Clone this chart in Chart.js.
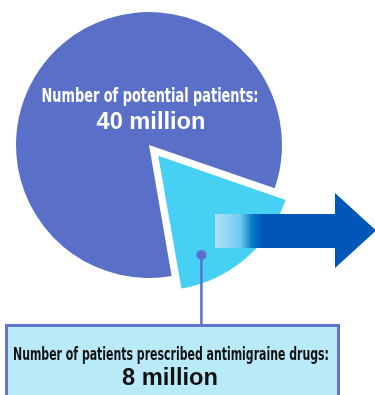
<!DOCTYPE html>
<html>
<head>
<meta charset="utf-8">
<script src="https://cdn.jsdelivr.net/npm/chart.js@4.4.1/dist/chart.umd.min.js"></script>
<style>
    html, body { margin: 0; padding: 0; background: #fff; }
    #wrap { position: relative; width: 375px; height: 395px; overflow: hidden; }
    #pieChart { position: absolute; left: 0; top: 0; }
    .lbl { position: absolute; white-space: nowrap; line-height: 1; transform-origin: 50% 50%; }
    .cond { font-family: "Liberation Sans Narrow", "DejaVu Sans Condensed", "Liberation Sans", sans-serif; font-weight: bold; }
    .num { font-family: "Liberation Sans", Arial, sans-serif; font-weight: bold; }
    #box { position: absolute; left: 5px; top: 324px; width: 335px; height: 90px; box-sizing: border-box;
           border: 3px solid #6074d0; background: #b9eaf9; }
</style>
</head>
<body>
<div id="wrap">
    <div id="box"></div>
    <canvas id="pieChart" width="375" height="395"></canvas>
    <div class="lbl cond" id="totalLabel" style="color:#fff; font-size:19px; top:86px;" data-cx="150" data-w="217"></div>
    <div class="lbl num" id="totalValue" style="color:#fff; font-size:23px; top:110px;" data-cx="151" data-w="109"></div>
    <div class="lbl cond" id="rxLabel" style="color:#111; font-size:18px; top:345px;" data-cx="171" data-w="316"></div>
    <div class="lbl num" id="rxValue" style="color:#111; font-size:23px; top:366px;" data-cx="170" data-w="96"></div>
</div>
<script>
// Slice shares as drawn on the pie (percent of the circle)
const sliceLabels = ['Patients prescribed antimigraine drugs', 'Other potential patients'];
const sliceShares = [17, 83];
const sliceColors = ['#46d0f4', '#5a70c8'];

// Texts
const totalLabel = 'Number of potential patients:';
const totalValue = '40 million';
const rxLabel = 'Number of patients prescribed antimigraine drugs:';
const rxValue = '8 million';

document.getElementById('totalLabel').textContent = totalLabel;
document.getElementById('totalValue').textContent = totalValue;
document.getElementById('rxLabel').textContent = rxLabel;
document.getElementById('rxValue').textContent = rxValue;

// centre each label and squeeze it to the width it has in the picture
document.querySelectorAll('.lbl').forEach(el => {
    const target = parseFloat(el.dataset.w);
    el.style.left = el.dataset.cx + 'px';
    const w = el.getBoundingClientRect().width;
    const k = w > 0 ? target / w : 1;
    el.style.transform = `translateX(-50%) scaleX(${k})`;
});

// Arrow and leader line drawn on top of the pie
const overlayPlugin = {
    id: 'overlay',
    afterDraw(chart) {
        const ctx = chart.ctx;
        const arc = chart.getDatasetMeta(0).data[0];
        const mid = (arc.startAngle + arc.endAngle) / 2;
        const circ = arc.endAngle - arc.startAngle;
        const off = arc.options.offset / 4;
        const shift = off + off * (1 - Math.sin(Math.min(Math.PI, circ)));
        const ax = arc.x + Math.cos(mid) * shift;
        const ay = arc.y + Math.sin(mid) * shift;

        ctx.save();
        // arrow
        const grad = ctx.createLinearGradient(215, 0, 262, 0);
        grad.addColorStop(0, 'rgba(185,229,247,0.9)');
        grad.addColorStop(0.55, 'rgba(110,200,238,1)');
        grad.addColorStop(0.78, '#0a7cc9');
        grad.addColorStop(1, '#0057b8');
        ctx.fillStyle = grad;
        ctx.fillRect(215, 214, 121, 34);
        ctx.fillStyle = '#0057b8';
        ctx.beginPath();
        ctx.moveTo(335, 193);
        ctx.lineTo(376, 230.5);
        ctx.lineTo(335, 268);
        ctx.closePath();
        ctx.fill();

        // leader dot + line
        const a = arc.startAngle + 0.78 * circ;
        const r = arc.outerRadius * 0.8;
        const dx = ax + Math.cos(a) * r;
        const dy = ay + Math.sin(a) * r;
        ctx.strokeStyle = '#5b6fcd';
        ctx.lineWidth = 2.5;
        ctx.beginPath();
        ctx.moveTo(dx, dy);
        ctx.lineTo(dx, 326);
        ctx.stroke();
        ctx.fillStyle = '#5b6fcd';
        ctx.beginPath();
        ctx.arc(dx, dy, 5, 0, Math.PI * 2);
        ctx.fill();
        ctx.restore();
    }
};

new Chart(document.getElementById('pieChart').getContext('2d'), {
    type: 'pie',
    data: {
        labels: sliceLabels,
        datasets: [{
            data: sliceShares,
            backgroundColor: sliceColors,
            borderWidth: 0,
            offset: [57, 0],
            hoverOffset: 0
        }]
    },
    options: {
        responsive: false,
        animation: false,
        events: [],
        rotation: 109,
        radius: 133,
        layout: {
            padding: { left: 0, top: 0, right: 77, bottom: 105 }
        },
        plugins: {
            legend: { display: false },
            tooltip: { enabled: false }
        }
    },
    plugins: [overlayPlugin]
});
</script>
</body>
</html>
